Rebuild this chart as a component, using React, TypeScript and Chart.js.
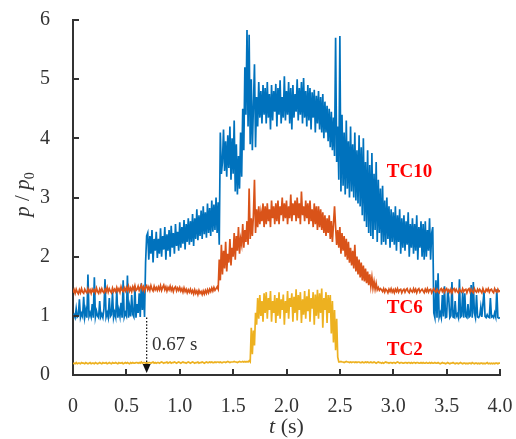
import React, { useEffect, useRef } from "react";
import { Chart, registerables } from "chart.js";

Chart.register(...registerables);

// Sampling of the recorded traces (time axis, seconds)
const T_START = 0;
const T_STEP = 0.01;

const X_TICKS = [0, 0.5, 1.0, 1.5, 2.0, 2.5, 3.0, 3.5, 4.0];
const Y_TICKS = [0, 1, 2, 3, 4, 5, 6];

const SERIES_NAMES = ["TC10", "TC6", "TC2"];
const ARRIVAL_LABEL = "0.67 s";

// p/p0, one row = 0.1 s
const TC10 = [
  0.98,1.02,0.97,1.12,0.98,1.00,1.28,0.97,1.04,0.99,
  1.32,0.98,1.10,0.97,1.70,0.99,1.05,0.98,1.20,0.97,
  1.65,0.98,1.08,1.00,0.97,1.25,0.98,1.03,0.97,1.12,
  1.62,0.98,1.05,0.97,1.30,0.99,1.02,1.40,0.97,1.06,
  0.98,1.45,0.97,1.10,0.99,1.22,0.97,1.60,0.98,1.05,
  1.00,1.68,0.97,1.15,0.99,1.35,1.02,0.98,1.50,0.97,
  1.20,1.05,1.38,0.98,1.55,1.10,1.45,0.98,1.90,2.35,
  2.40,1.95,2.35,2.05,2.45,1.90,2.30,2.10,2.42,1.98,
  2.30,2.05,2.48,2.00,2.35,2.12,2.50,1.95,2.38,2.10,
  2.45,2.00,2.52,2.15,2.40,2.05,2.55,2.18,2.42,2.10,
  2.58,2.15,2.50,2.22,2.62,2.12,2.55,2.25,2.65,2.20,
  2.60,2.25,2.72,2.18,2.65,2.30,2.80,2.28,2.70,2.35,
  2.78,2.30,2.85,2.38,2.75,2.32,2.90,2.40,2.82,2.35,
  2.95,2.42,2.88,2.45,3.00,2.40,2.92,2.20,4.10,3.40,
  3.60,4.15,3.45,3.95,3.35,4.05,3.50,4.20,3.30,4.00,
  3.40,4.30,3.10,3.90,3.05,3.70,3.15,4.10,3.35,4.50,
  3.80,5.20,4.40,5.83,4.20,5.75,3.90,5.00,3.80,4.55,
  5.25,3.85,4.70,4.20,4.95,4.35,4.80,4.25,4.90,4.40,
  4.85,4.25,4.95,4.35,4.75,4.15,4.90,4.30,4.80,4.45,
  4.92,4.20,4.85,4.40,4.98,4.25,4.70,4.35,5.05,4.30,
  4.80,4.40,4.95,4.25,4.85,4.15,4.90,4.35,4.75,4.45,
  5.00,4.30,4.85,4.40,4.95,4.25,5.02,4.35,4.80,4.20,
  4.90,4.30,4.85,4.15,4.78,4.35,4.82,4.10,4.72,4.25,
  4.80,4.15,4.70,4.10,4.75,4.00,4.62,4.10,4.55,3.95,
  4.50,3.85,4.45,3.80,4.35,3.70,5.70,3.60,4.20,3.30,
  5.73,3.10,4.40,3.20,4.10,3.05,4.30,3.15,3.95,3.00,
  4.20,3.10,3.90,3.00,4.10,2.95,3.80,2.90,4.05,2.85,
  3.85,2.70,4.00,2.60,3.60,2.50,3.80,2.40,3.55,2.35,
  3.75,2.30,3.40,2.45,3.60,2.25,3.30,2.40,3.15,2.20,
  3.20,2.25,2.95,2.20,3.00,2.30,2.85,2.15,2.80,2.25,
  2.75,2.20,2.85,2.10,2.70,2.25,2.80,2.05,2.65,2.15,
  2.70,2.10,2.60,2.20,2.75,2.00,2.55,2.15,2.65,2.05,
  2.55,2.10,2.70,1.95,2.50,2.15,2.60,2.00,2.55,1.95,
  2.60,2.00,2.45,2.10,2.65,1.95,2.40,2.50,1.05,0.97,
  1.60,0.97,1.72,0.98,1.05,0.97,1.35,0.99,1.50,0.97,
  0.98,1.44,1.30,0.97,1.00,1.57,0.98,0.97,1.25,0.99,
  1.03,0.97,1.62,0.98,1.00,1.40,0.97,1.38,0.99,0.97,
  1.20,0.98,1.00,1.52,0.97,1.57,1.05,0.97,1.35,0.98,
  0.97,1.00,1.15,0.98,1.20,1.40,0.99,0.97,1.02,0.98,
  0.97,1.30,0.98,1.00,0.97,1.05,0.98,1.45,0.97,0.96,
  0.97,
];

const TC6 = [
  1.39,1.44,1.38,1.45,1.40,1.37,1.44,1.39,1.46,1.40,
  1.38,1.45,1.41,1.39,1.46,1.40,1.44,1.38,1.45,1.41,
  1.44,1.39,1.47,1.41,1.38,1.45,1.40,1.46,1.41,1.39,
  1.45,1.41,1.48,1.40,1.46,1.42,1.39,1.47,1.41,1.45,
  1.41,1.48,1.42,1.46,1.40,1.49,1.43,1.41,1.47,1.42,
  1.48,1.43,1.50,1.42,1.47,1.41,1.49,1.44,1.51,1.43,
  1.45,1.50,1.43,1.48,1.52,1.44,1.49,1.42,1.48,1.51,
  1.44,1.49,1.43,1.51,1.45,1.42,1.50,1.44,1.48,1.43,
  1.49,1.44,1.51,1.43,1.48,1.52,1.44,1.49,1.42,1.48,
  1.44,1.50,1.43,1.48,1.41,1.47,1.49,1.42,1.47,1.43,
  1.48,1.42,1.46,1.40,1.47,1.41,1.45,1.39,1.44,1.40,
  1.45,1.39,1.43,1.37,1.44,1.38,1.42,1.36,1.43,1.38,
  1.41,1.36,1.42,1.37,1.43,1.38,1.44,1.39,1.45,1.41,
  1.47,1.42,1.48,1.43,1.46,1.49,1.45,1.95,1.60,2.20,
  1.70,2.10,1.80,2.25,1.75,2.05,1.90,2.30,1.85,2.15,
  2.00,2.40,1.95,2.35,2.10,2.50,2.05,2.30,2.20,2.55,
  2.15,2.45,2.25,2.60,2.20,3.15,2.30,2.65,2.35,2.70,
  3.30,2.40,2.80,2.50,2.85,2.55,2.75,2.60,2.90,2.50,
  2.85,2.55,2.90,2.60,2.80,2.50,2.95,2.65,2.85,2.55,
  2.90,2.60,2.95,2.55,2.85,2.70,3.00,2.60,2.90,2.65,
  2.95,2.55,2.85,2.65,3.05,2.60,2.90,2.70,2.95,2.60,
  3.00,2.65,2.90,2.55,3.10,2.70,2.85,2.60,2.95,2.65,
  2.90,2.55,2.95,2.60,2.80,2.50,2.90,2.55,2.85,2.45,
  2.85,2.50,2.80,2.45,2.75,2.40,2.70,2.35,2.65,2.40,
  2.70,2.30,2.60,2.25,2.55,2.85,2.50,2.20,2.45,2.15,
  2.50,2.05,2.40,2.10,2.35,2.00,2.30,1.95,2.25,1.90,
  2.15,1.85,2.10,1.80,2.20,1.75,2.00,1.70,1.95,1.65,
  1.90,1.60,1.85,1.58,1.80,1.55,1.75,1.52,1.70,1.50,
  1.65,1.47,1.58,1.45,1.55,1.44,1.48,1.43,1.46,1.44,
  1.41,1.46,1.40,1.45,1.43,1.39,1.45,1.41,1.46,1.40,
  1.44,1.39,1.45,1.41,1.46,1.40,1.44,1.45,1.39,1.43,
  1.45,1.40,1.44,1.46,1.41,1.39,1.45,1.42,1.40,1.46,
  1.41,1.45,1.39,1.44,1.46,1.40,1.43,1.45,1.42,1.39,
  1.45,1.41,1.46,1.40,1.44,1.45,1.39,1.43,1.46,1.42,
  1.40,1.45,1.41,1.39,1.44,1.46,1.41,1.45,1.40,1.44,
  1.46,1.41,1.44,1.40,1.45,1.39,1.44,1.46,1.41,1.45,
  1.41,1.39,1.45,1.42,1.40,1.46,1.41,1.44,1.45,1.39,
  1.44,1.46,1.40,1.45,1.41,1.39,1.46,1.42,1.40,1.45,
  1.41,1.45,1.42,1.39,1.46,1.41,1.40,1.45,1.42,1.46,
  1.40,1.44,1.45,1.41,1.39,1.46,1.42,1.40,1.45,1.41,
  1.43,
];

const TC2 = [
  0.19,0.20,0.19,0.21,0.19,0.20,0.20,0.19,0.21,0.20,
  0.20,0.19,0.21,0.20,0.19,0.20,0.21,0.19,0.20,0.20,
  0.19,0.21,0.20,0.19,0.20,0.21,0.20,0.19,0.21,0.20,
  0.20,0.21,0.19,0.20,0.21,0.20,0.19,0.21,0.20,0.20,
  0.21,0.20,0.19,0.21,0.20,0.20,0.21,0.19,0.20,0.21,
  0.20,0.21,0.20,0.19,0.21,0.20,0.21,0.20,0.20,0.21,
  0.21,0.20,0.21,0.20,0.22,0.20,0.21,0.21,0.20,0.21,
  0.20,0.21,0.21,0.20,0.21,0.22,0.20,0.21,0.20,0.21,
  0.21,0.20,0.21,0.22,0.21,0.20,0.21,0.21,0.22,0.20,
  0.21,0.22,0.20,0.21,0.21,0.22,0.21,0.20,0.21,0.22,
  0.21,0.20,0.21,0.22,0.21,0.21,0.20,0.21,0.22,0.21,
  0.20,0.21,0.22,0.21,0.20,0.21,0.21,0.22,0.20,0.21,
  0.21,0.22,0.21,0.20,0.21,0.22,0.21,0.21,0.22,0.21,
  0.22,0.21,0.21,0.22,0.21,0.22,0.22,0.21,0.22,0.21,
  0.21,0.22,0.22,0.21,0.22,0.23,0.22,0.21,0.22,0.22,
  0.22,0.23,0.22,0.22,0.21,0.22,0.23,0.22,0.22,0.23,
  0.22,0.23,0.22,0.23,0.22,0.24,0.22,0.80,0.35,0.75,
  0.50,1.05,0.85,1.30,0.95,1.35,1.00,1.25,0.90,1.38,
  1.05,1.40,0.95,1.30,1.10,1.42,0.90,1.25,1.05,1.35,
  0.88,1.30,1.00,1.40,0.95,1.28,1.10,1.36,0.85,1.25,
  1.05,1.42,0.95,1.30,1.15,1.38,0.90,1.32,1.05,1.45,
  0.92,1.35,1.10,1.40,0.88,1.28,1.02,1.42,0.95,1.33,
  1.08,1.45,0.90,1.30,1.12,1.40,0.85,1.36,1.00,1.44,
  0.95,1.38,1.05,1.46,0.80,1.30,1.10,1.40,0.88,1.35,
  1.05,1.35,0.70,1.25,0.55,1.10,0.42,0.95,0.30,0.22,
  0.22,0.23,0.22,0.22,0.21,0.22,0.23,0.22,0.22,0.21,
  0.22,0.21,0.22,0.22,0.21,0.22,0.21,0.22,0.22,0.21,
  0.21,0.22,0.21,0.21,0.22,0.21,0.22,0.21,0.21,0.22,
  0.21,0.21,0.22,0.21,0.20,0.21,0.22,0.21,0.21,0.20,
  0.21,0.20,0.21,0.22,0.21,0.21,0.20,0.21,0.21,0.20,
  0.21,0.21,0.20,0.21,0.22,0.21,0.20,0.21,0.21,0.20,
  0.20,0.21,0.21,0.20,0.21,0.21,0.20,0.21,0.20,0.21,
  0.21,0.20,0.21,0.21,0.20,0.20,0.21,0.20,0.21,0.20,
  0.20,0.21,0.20,0.20,0.21,0.20,0.21,0.20,0.20,0.21,
  0.20,0.20,0.21,0.20,0.19,0.20,0.21,0.20,0.20,0.19,
  0.20,0.21,0.20,0.19,0.20,0.20,0.21,0.20,0.19,0.20,
  0.20,0.19,0.20,0.21,0.20,0.19,0.20,0.20,0.19,0.20,
  0.19,0.20,0.20,0.19,0.21,0.20,0.19,0.20,0.20,0.19,
  0.20,0.19,0.20,0.20,0.19,0.20,0.19,0.20,0.21,0.19,
  0.20,0.19,0.20,0.19,0.20,0.19,0.20,0.20,0.19,0.20,
  0.20,
];

// Arrival marker (time of the TC10 jump) and start value of the dotted drop line
const ARRIVAL_T = 0.69;
const ARRIVAL_FROM = 0.97;

const SERIF = "'Liberation Serif', 'Times New Roman', Times, serif";
const TEXT_GRAY = "#333333";
const COLORS = { TC10: "#0072BD", TC6: "#D95319", TC2: "#EDB120" };

const toPoints = (vals: number[]) =>
  vals.map((y, i) => ({ x: Math.round((T_START + i * T_STEP) * 100) / 100, y }));

const overlayPlugin = {
  id: "overlay",
  afterDraw(chart: any) {
    const { ctx, chartArea } = chart;
    const xs = chart.scales.x;
    const ys = chart.scales.y;
    ctx.save();

    // inward tick marks
    ctx.strokeStyle = "#333333";
    ctx.lineWidth = 2;
    ctx.beginPath();
    Y_TICKS.forEach((v) => {
      const py = Math.round(ys.getPixelForValue(v));
      ctx.moveTo(chartArea.left, py);
      ctx.lineTo(chartArea.left + 6, py);
    });
    X_TICKS.forEach((v) => {
      const px = Math.round(xs.getPixelForValue(v));
      ctx.moveTo(px, chartArea.bottom);
      ctx.lineTo(px, chartArea.bottom - 6);
    });
    ctx.stroke();

    // dotted arrival line + arrow
    const ax = xs.getPixelForValue(ARRIVAL_T);
    const aTop = ys.getPixelForValue(ARRIVAL_FROM);
    const aTip = ys.getPixelForValue(0) - 2;
    ctx.strokeStyle = "#111";
    ctx.lineWidth = 1.3;
    ctx.setLineDash([1.5, 1.8]);
    ctx.beginPath();
    ctx.moveTo(ax, aTop);
    ctx.lineTo(ax, aTip - 8);
    ctx.stroke();
    ctx.setLineDash([]);
    ctx.fillStyle = "#111";
    ctx.beginPath();
    ctx.moveTo(ax - 4, aTip - 9);
    ctx.lineTo(ax + 4, aTip - 9);
    ctx.lineTo(ax, aTip);
    ctx.closePath();
    ctx.fill();

    ctx.fillStyle = TEXT_GRAY;
    ctx.font = `19px ${SERIF}`;
    ctx.textAlign = "left";
    ctx.textBaseline = "alphabetic";
    ctx.fillText(ARRIVAL_LABEL, xs.getPixelForValue(0.74), ys.getPixelForValue(0.42));

    // series labels
    ctx.fillStyle = "#FF0000";
    ctx.font = `bold 19px ${SERIF}`;
    ctx.textBaseline = "middle";
    const labelY = [3.43, 1.13, 0.42];
    SERIES_NAMES.forEach((name, i) => {
      ctx.fillText(name, xs.getPixelForValue(2.94), ys.getPixelForValue(labelY[i]));
    });

    // x title: "t (s)"
    ctx.fillStyle = TEXT_GRAY;
    ctx.textBaseline = "alphabetic";
    const fItal = `italic 22px ${SERIF}`;
    const fReg = `22px ${SERIF}`;
    ctx.font = fItal;
    const wT = ctx.measureText("t").width;
    ctx.font = fReg;
    const wRest = ctx.measureText(" (s)").width;
    const cx = (chartArea.left + chartArea.right) / 2;
    const sx = cx - (wT + wRest) / 2;
    ctx.font = fItal;
    ctx.fillText("t", sx, 433);
    ctx.font = fReg;
    ctx.fillText(" (s)", sx + wT, 433);

    // y title: "p / p0"
    ctx.save();
    ctx.translate(29, (chartArea.top + chartArea.bottom) / 2 - 3);
    ctx.rotate(-Math.PI / 2);
    const fI2 = `italic 21px ${SERIF}`;
    const fR2 = `21px ${SERIF}`;
    const fSub = `14px ${SERIF}`;
    ctx.font = fI2;
    const wp = ctx.measureText("p").width;
    ctx.font = fR2;
    const ws = ctx.measureText(" / ").width;
    ctx.font = fSub;
    const w0 = ctx.measureText("0").width;
    let tx = -(wp * 2 + ws + w0) / 2;
    ctx.font = fI2;
    ctx.fillText("p", tx, 0);
    tx += wp;
    ctx.font = fR2;
    ctx.fillText(" / ", tx, 0);
    tx += ws;
    ctx.font = fI2;
    ctx.fillText("p", tx, 0);
    tx += wp;
    ctx.font = fSub;
    ctx.fillText("0", tx, 5);
    ctx.restore();

    ctx.restore();
  },
};

export default function App() {
  const canvasRef = useRef<HTMLCanvasElement | null>(null);

  useEffect(() => {
    const canvas = canvasRef.current;
    if (!canvas) return;
    const tickFont = { family: SERIF, size: 20 };
    const chart = new Chart(canvas, {
      type: "line",
      data: {
        datasets: [
          { label: "TC2", data: toPoints(TC2), borderColor: COLORS.TC2, order: 1 },
          { label: "TC6", data: toPoints(TC6), borderColor: COLORS.TC6, order: 2 },
          { label: "TC10", data: toPoints(TC10), borderColor: COLORS.TC10, order: 3 },
        ].map((d) => ({
          ...d,
          borderWidth: 1.7,
          pointRadius: 0,
          tension: 0,
          fill: false,
          borderJoinStyle: "miter" as const,
        })),
      },
      options: {
        animation: false,
        responsive: false,
        devicePixelRatio: 1,
        parsing: false as any,
        normalized: true,
        layout: { padding: { left: 0, right: 16, top: 20, bottom: 0 } },
        plugins: {
          legend: { display: false },
          tooltip: { enabled: false },
        },
        events: [],
        scales: {
          x: {
            type: "linear",
            min: 0,
            max: 4,
            afterBuildTicks: (s: any) => {
              s.ticks = X_TICKS.map((v) => ({ value: v }));
            },
            afterFit: (s: any) => {
              s.height = 64;
              s.paddingLeft = 0;
              s.paddingRight = 0;
              s.paddingTop = 0;
              s.paddingBottom = 0;
            },
            grid: { display: false },
            border: { display: true, color: "#333333", width: 2 },
            ticks: {
              font: tickFont,
              color: TEXT_GRAY,
              padding: 12,
              maxRotation: 0,
              autoSkip: false,
              callback: (v: any) => (Number(v) === 0 ? "0" : Number(v).toFixed(1)),
            },
          },
          y: {
            type: "linear",
            min: 0,
            max: 6,
            afterBuildTicks: (s: any) => {
              s.ticks = Y_TICKS.map((v) => ({ value: v }));
            },
            afterFit: (s: any) => {
              s.width = 73;
              s.paddingLeft = 0;
              s.paddingRight = 0;
              s.paddingTop = 0;
              s.paddingBottom = 0;
            },
            grid: { display: false },
            border: { display: true, color: "#333333", width: 2 },
            ticks: {
              font: tickFont,
              color: TEXT_GRAY,
              padding: 15,
              callback: (v: any) => String(v),
            },
          },
        },
      },
      plugins: [overlayPlugin],
    });
    return () => chart.destroy();
  }, []);

  return (
    <div style={{ position: "absolute", left: 0, top: 0, width: 516, height: 439, background: "#fff" }}>
      <canvas ref={canvasRef} width={516} height={439} style={{ display: "block" }} />
    </div>
  );
}
